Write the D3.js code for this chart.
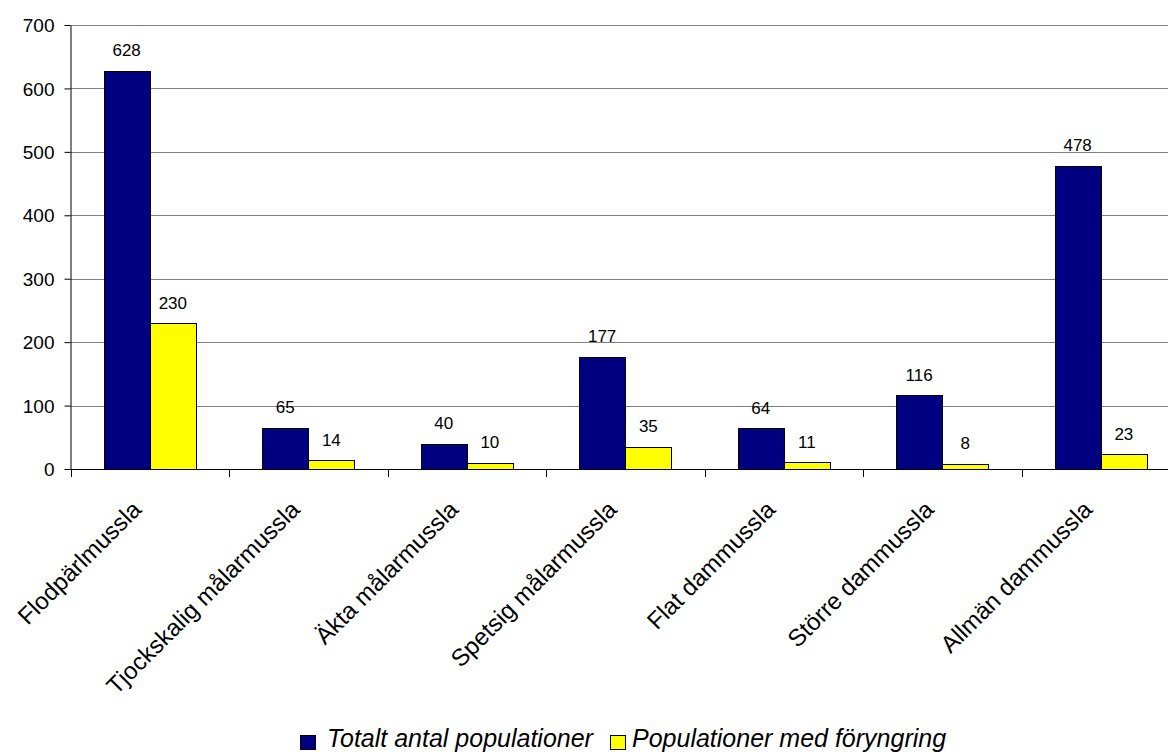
<!DOCTYPE html>
<html>
<head>
<meta charset="utf-8">
<script src="https://cdn.jsdelivr.net/npm/d3@7"></script>
<style>
  html, body { margin: 0; padding: 0; background: #fff; }
  svg { display: block; font-family: "Liberation Sans", Arial, sans-serif; }
</style>
</head>
<body>
<svg id="chart" width="1168" height="752"></svg>
<script>
// Species of freshwater mussels
const categories = [
  "Flodpärlmussla",
  "Tjockskalig målarmussla",
  "Äkta målarmussla",
  "Spetsig målarmussla",
  "Flat dammussla",
  "Större dammussla",
  "Allmän dammussla"
];
const totalPopulations = [628, 65, 40, 177, 64, 116, 478];
const renewingPopulations = [230, 14, 10, 35, 11, 8, 23];
const seriesNames = ["Totalt antal populationer", "Populationer med föryngring"];
const seriesColors = ["#000080", "#ffff00"];
const yTicks = [0, 100, 200, 300, 400, 500, 600, 700];

const svg = d3.select("#chart");
const W = 1168, H = 752;
const plot = { left: 70.5, top: 25, bottom: 469, right: 1180 };

const x = d3.scaleBand().domain(categories).range([plot.left, plot.right]).paddingInner(0).paddingOuter(0);
const inner = d3.scaleBand().domain([0, 1]).range([0, x.bandwidth()]).paddingOuter(0.715).paddingInner(0);
const y = d3.scaleLinear().domain([0, 700]).range([plot.bottom, plot.top]);

// Horizontal gridlines
svg.append("g").selectAll("line").data(yTicks.filter(d => d > 0)).join("line")
  .attr("x1", plot.left).attr("x2", W)
  .attr("y1", d => Math.round(y(d)) + 0.5).attr("y2", d => Math.round(y(d)) + 0.5)
  .attr("stroke", "#808080").attr("stroke-width", 1);

// Y axis
const yAxis = d3.axisLeft(y).tickValues(yTicks).tickSize(6).tickSizeOuter(0).tickFormat(d3.format("d"));
const gy = svg.append("g").attr("transform", `translate(${plot.left},0)`).call(yAxis);
gy.select(".domain").attr("stroke", "#000");
gy.selectAll(".tick line").attr("stroke", "#000");
gy.selectAll(".tick text").attr("font-size", 19).attr("fill", "#000")
  .attr("font-family", "Liberation Sans, Arial, sans-serif").attr("x", -16).attr("dy", "0.35em");

// Bars with value labels
const series = [totalPopulations, renewingPopulations];
series.forEach((vals, si) => {
  svg.append("g").selectAll("rect").data(categories).join("rect")
    .attr("x", (c) => Math.round(x(c) + inner(si)) + 0.5)
    .attr("y", (c, i) => Math.round(y(vals[i])) + 0.5)
    .attr("width", Math.round(inner.bandwidth()))
    .attr("height", (c, i) => Math.round(y(0)) - Math.round(y(vals[i])))
    .attr("fill", seriesColors[si])
    .attr("stroke", "#000").attr("stroke-width", 1);

  svg.append("g").selectAll("text").data(categories).join("text")
    .attr("x", c => x(c) + inner(si) + inner.bandwidth() / 2)
    .attr("y", (c, i) => y(vals[i]) - 14.5)
    .attr("text-anchor", "middle")
    .attr("font-size", 17)
    .attr("fill", "#000")
    .text((c, i) => vals[i]);
});

// X axis baseline and category ticks
const xAxisG = svg.append("g");
xAxisG.append("line").attr("x1", plot.left).attr("x2", W)
  .attr("y1", Math.round(y(0)) + 0.5).attr("y2", Math.round(y(0)) + 0.5)
  .attr("stroke", "#000");
xAxisG.selectAll("line.tk").data(categories).join("line").attr("class", "tk")
  .attr("x1", c => Math.round(x(c)) + 0.5).attr("x2", c => Math.round(x(c)) + 0.5)
  .attr("y1", Math.round(y(0))).attr("y2", Math.round(y(0)) + 8)
  .attr("stroke", "#000");

// Rotated category labels
xAxisG.selectAll("text").data(categories).join("text")
  .attr("transform", c => `translate(${x(c) + x.bandwidth() / 2 - 7},${plot.bottom + 42}) rotate(-45)`)
  .attr("text-anchor", "end")
  .attr("font-size", 24)
  .attr("fill", "#000")
  .text(c => c);

// Legend
const legend = svg.append("g");
const legendItems = [{x: 300, tx: 327}, {x: 610, tx: 632}];
seriesNames.forEach((name, i) => {
  legend.append("rect").attr("x", legendItems[i].x + 0.5).attr("y", 735.5)
    .attr("width", 15).attr("height", 14)
    .attr("fill", seriesColors[i]).attr("stroke", "#000");
  legend.append("text").attr("x", legendItems[i].tx).attr("y", 747)
    .attr("font-size", 25).attr("font-style", "italic").attr("fill", "#000")
    .text(name);
});
</script>
</body>
</html>
